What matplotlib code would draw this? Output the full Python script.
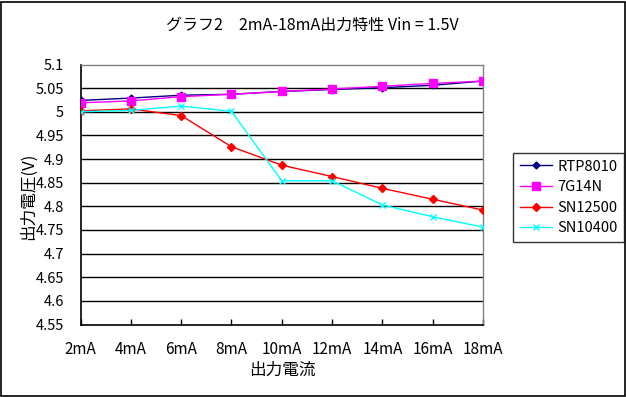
import matplotlib
matplotlib.use("Agg")
import matplotlib.pyplot as plt
from matplotlib.patches import Rectangle

plt.rcParams['font.family'] = ['Noto Sans CJK JP', 'DejaVu Sans']

categories = ["2mA", "4mA", "6mA", "8mA", "10mA", "12mA", "14mA", "16mA", "18mA"]
rtp8010 = [5.024, 5.029, 5.035, 5.037, 5.043, 5.047, 5.051, 5.056, 5.065]
g7g14n = [5.019, 5.023, 5.032, 5.037, 5.043, 5.048, 5.054, 5.060, 5.065]
sn12500 = [5.002, 5.006, 4.992, 4.926, 4.887, 4.863, 4.838, 4.815, 4.792]
sn10400 = [5.000, 5.003, 5.012, 5.001, 4.854, 4.854, 4.803, 4.778, 4.756]
yticks = [4.55, 4.6, 4.65, 4.7, 4.75, 4.8, 4.85, 4.9, 4.95, 5.0, 5.05, 5.1]
ytick_labels = ["4.55", "4.6", "4.65", "4.7", "4.75", "4.8", "4.85", "4.9", "4.95", "5", "5.05", "5.1"]

W, H = 626, 397
fig = plt.figure(figsize=(W / 100, H / 100), dpi=100)
fig.patch.set_facecolor("white")
fig.patches.append(Rectangle((0.5 / W, 1.5 / H), (W - 2) / W, (H - 3) / H,
                             transform=fig.transFigure, fill=False,
                             edgecolor="black", linewidth=1.2))

left, right, top, bottom = 80.5, 483, 64.5, 324.5
ax = fig.add_axes([left / W, 1 - bottom / H, (right - left) / W, (bottom - top) / H])
x = list(range(len(categories)))

lw = 1.0
ax.plot(x, rtp8010, color="#000080", marker="D", markersize=3.5, linewidth=lw, label="RTP8010", zorder=3)
ax.plot(x, g7g14n, color="#FF00FF", marker="s", markersize=6, linewidth=lw, label="7G14N", zorder=4)
ax.plot(x, sn12500, color="#FF0000", marker="D", markersize=4.5, linewidth=lw, label="SN12500", zorder=5)
ax.plot(x, sn10400, color="#00FFFF", marker="x", markersize=4, markeredgewidth=1, linewidth=lw, label="SN10400", zorder=6)

ax.set_xlim(0, len(categories) - 1)
ax.set_ylim(4.55, 5.1)
ax.set_yticks(yticks)
ax.set_yticklabels(ytick_labels)
ax.set_xticks(x)
ax.set_xticklabels(categories)
for yv in yticks[1:-1]:
    ax.axhline(yv, color="black", linewidth=1.0, zorder=1)

ax.tick_params(axis="x", direction="in", length=4, width=1, pad=12, labelsize=11)
ax.tick_params(axis="y", length=0, pad=12, labelsize=10.5)
for s in ["left", "bottom"]:
    ax.spines[s].set_color("black")
    ax.spines[s].set_linewidth(1.2)
for s in ["top", "right"]:
    ax.spines[s].set_color("#808080")
    ax.spines[s].set_linewidth(1.0)

fig.text(312 / W, 1 - 25 / H, "グラフ2　2mA-18mA出力特性 Vin = 1.5V", ha="center", va="center", fontsize=11.5)
fig.text(282 / W, 1 - 370 / H, "出力電流", ha="center", va="center", fontsize=12)
fig.text(28 / W, 1 - 196 / H, "出力電圧(V)", ha="center", va="center", rotation=90, fontsize=12)

leg = fig.legend(loc="upper left", bbox_to_anchor=(513 / W, 1 - 153 / H),
                 frameon=True, fancybox=False, edgecolor="black", fontsize=10.5,
                 handlelength=2.2, handletextpad=0.4, borderpad=0.45, labelspacing=0.45,
                 borderaxespad=0)
leg.get_frame().set_linewidth(1.0)

fig.savefig("out.png", dpi=100, facecolor="white")
